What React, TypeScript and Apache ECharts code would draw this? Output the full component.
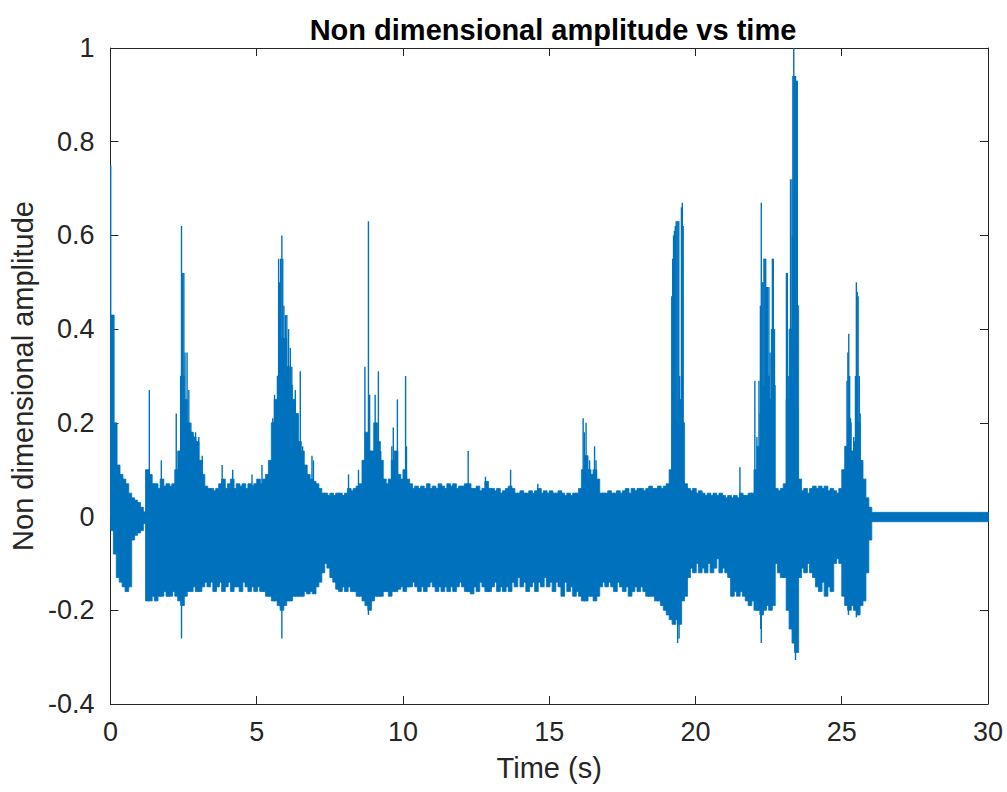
import React, { useEffect, useRef } from "react";
import * as echarts from "echarts";

// ---- axis ticks ----
const xTicks = [0, 5, 10, 15, 20, 25, 30];
const yTicks = [-0.4, -0.2, 0, 0.2, 0.4, 0.6, 0.8, 1];

// ---- signal envelope, one column every 0.1 s from 0 s to 26 s ----
const envStart = 0;
const envStep = 0.1;
const envHi = [
  0.43, 0.2, 0.11, 0.09, 0.08, 0.07, 0.05, 0.04, 0.035, 0.03,
  0.02, 0.01, 0.1, 0.09, 0.07, 0.07, 0.06, 0.08, 0.065, 0.07,
  0.065, 0.07, 0.1, 0.14, 0.3, 0.25, 0.2, 0.18, 0.17, 0.16,
  0.12, 0.09, 0.065, 0.06, 0.06, 0.055, 0.06, 0.07, 0.08, 0.06,
  0.07, 0.08, 0.06, 0.07, 0.065, 0.07, 0.06, 0.07, 0.065, 0.07,
  0.08, 0.07, 0.08, 0.09, 0.12, 0.2, 0.25, 0.3, 0.38, 0.38,
  0.32, 0.28, 0.25, 0.22, 0.16, 0.14, 0.11, 0.09, 0.08, 0.075,
  0.07, 0.06, 0.05, 0.05, 0.045, 0.05, 0.045, 0.05, 0.05, 0.045,
  0.05, 0.06, 0.055, 0.06, 0.065, 0.07, 0.12, 0.18, 0.14, 0.14,
  0.2, 0.16, 0.12, 0.08, 0.07, 0.08, 0.12, 0.14, 0.09, 0.08,
  0.1, 0.08, 0.07, 0.06, 0.065, 0.06, 0.065, 0.06, 0.07, 0.06,
  0.065, 0.06, 0.07, 0.065, 0.06, 0.07, 0.065, 0.07, 0.06, 0.065,
  0.065, 0.07, 0.07, 0.06, 0.06, 0.065, 0.055, 0.06, 0.075, 0.06,
  0.06, 0.055, 0.06, 0.05, 0.055, 0.06, 0.065, 0.06, 0.05, 0.05,
  0.055, 0.05, 0.05, 0.055, 0.05, 0.055, 0.06, 0.05, 0.055, 0.05,
  0.055, 0.05, 0.05, 0.055, 0.05, 0.045, 0.05, 0.045, 0.05, 0.05,
  0.06, 0.1, 0.13, 0.1, 0.09, 0.1, 0.08, 0.05, 0.05, 0.05,
  0.055, 0.05, 0.05, 0.055, 0.05, 0.055, 0.06, 0.05, 0.06, 0.055,
  0.06, 0.06, 0.055, 0.06, 0.065, 0.06, 0.06, 0.065, 0.06, 0.065,
  0.07, 0.1, 0.2, 0.2, 0.25, 0.2, 0.07, 0.06, 0.055, 0.06,
  0.05, 0.055, 0.05, 0.045, 0.05, 0.045, 0.05, 0.045, 0.05, 0.045,
  0.04, 0.045, 0.04, 0.045, 0.04, 0.05, 0.045, 0.045, 0.05, 0.05,
  0.1, 0.15, 0.22, 0.28, 0.3, 0.25, 0.28, 0.06, 0.055, 0.06,
  0.07, 0.25, 0.4, 0.6, 0.45, 0.08, 0.055, 0.06, 0.05, 0.06,
  0.065, 0.06, 0.065, 0.06, 0.065, 0.055, 0.06, 0.055, 0.05, 0.06,
  0.1, 0.15, 0.2, 0.14, 0.16, 0.2, 0.12, 0.08, 0.04, 0.02,
];
const envLo = [
  -0.03, -0.08, -0.13, -0.14, -0.15, -0.16, -0.15, -0.05, -0.04, -0.035,
  -0.03, -0.015, -0.18, -0.18, -0.17, -0.18, -0.17, -0.17, -0.16, -0.17,
  -0.17, -0.16, -0.17, -0.18, -0.19, -0.17, -0.16, -0.16, -0.15, -0.16,
  -0.16, -0.15, -0.14, -0.15, -0.14, -0.16, -0.15, -0.14, -0.16, -0.15,
  -0.14, -0.16, -0.15, -0.15, -0.16, -0.14, -0.15, -0.16, -0.15, -0.16,
  -0.15, -0.16, -0.16, -0.17, -0.17, -0.18, -0.18, -0.19, -0.2, -0.19,
  -0.18, -0.18, -0.17, -0.17, -0.17, -0.17, -0.16, -0.165, -0.16, -0.165,
  -0.15, -0.14, -0.12, -0.1, -0.11, -0.13, -0.14, -0.155, -0.16, -0.15,
  -0.16, -0.15, -0.16, -0.16, -0.17, -0.17, -0.18, -0.19, -0.2, -0.18,
  -0.17, -0.17, -0.17, -0.16, -0.16, -0.17, -0.16, -0.16, -0.155, -0.15,
  -0.16, -0.15, -0.15, -0.14, -0.15, -0.16, -0.15, -0.16, -0.15, -0.14,
  -0.15, -0.16, -0.15, -0.16, -0.15, -0.16, -0.15, -0.16, -0.15, -0.14,
  -0.15, -0.16, -0.16, -0.165, -0.15, -0.16, -0.14, -0.15, -0.16, -0.16,
  -0.15, -0.14, -0.16, -0.15, -0.16, -0.15, -0.16, -0.14, -0.15, -0.13,
  -0.15, -0.14, -0.16, -0.15, -0.14, -0.16, -0.14, -0.15, -0.13, -0.15,
  -0.14, -0.16, -0.14, -0.15, -0.17, -0.14, -0.16, -0.15, -0.17, -0.16,
  -0.17, -0.18, -0.18, -0.17, -0.17, -0.18, -0.17, -0.15, -0.14, -0.15,
  -0.14, -0.15, -0.16, -0.14, -0.15, -0.16, -0.15, -0.17, -0.16, -0.15,
  -0.16, -0.15, -0.16, -0.17, -0.17, -0.17, -0.18, -0.18, -0.19, -0.2,
  -0.21, -0.22, -0.23, -0.22, -0.23, -0.18, -0.17, -0.13, -0.11, -0.12,
  -0.1, -0.12, -0.11, -0.12, -0.1, -0.12, -0.11, -0.09, -0.12, -0.11,
  -0.12, -0.13, -0.17, -0.16, -0.17, -0.16, -0.17, -0.18, -0.19, -0.18,
  -0.2, -0.2, -0.21, -0.2, -0.19, -0.2, -0.19, -0.1, -0.12, -0.13,
  -0.13, -0.2, -0.24, -0.27, -0.29, -0.13, -0.11, -0.12, -0.1, -0.12,
  -0.13, -0.15, -0.16, -0.14, -0.17, -0.15, -0.16, -0.1, -0.09, -0.1,
  -0.17, -0.19, -0.2, -0.19, -0.2, -0.21, -0.19, -0.18, -0.12, -0.05,
];
// quiet tail after the recording ends
const tailStart = 26;
const tailEnd = 30;
const tailHi = 0.009;
const tailLo = -0.011;

// ---- positive spikes (time s, peak) ----
const spikeT = [
  0.01, 0.04, 0.08, 1.33, 1.74, 2.25, 2.4, 2.43, 2.47, 2.51, 2.55, 2.62, 2.68, 2.75, 2.82, 2.91, 3.02, 3.14,
  3.82, 4.18, 4.84, 5.18, 5.55, 5.61, 5.72, 5.75, 5.78, 5.82, 5.86, 5.89, 5.93, 5.98, 6.03, 6.09, 6.15, 6.2,
  6.32, 6.49, 6.57, 6.89, 6.94, 8.14, 8.48, 8.7, 8.82, 8.86, 9.05, 9.16, 9.24, 9.62, 9.67, 9.81, 10.09, 10.12,
  12.23, 12.82, 13.68, 14.61, 16.16, 16.2, 16.26, 16.38, 16.55, 16.6,
  19.19, 19.22, 19.25, 19.28, 19.31, 19.34, 19.37, 19.4, 19.43, 19.46, 19.49, 19.52, 19.55, 19.58,
  21.52, 22.03, 22.1, 22.17, 22.22, 22.25, 22.28, 22.31, 22.34, 22.37, 22.4, 22.43, 22.46, 22.51, 22.55, 22.6,
  22.63, 22.66, 22.7, 23.11, 23.14, 23.19, 23.25, 23.3, 23.33, 23.36, 23.39, 23.42, 23.45, 23.48, 23.5,
  25.18, 25.21, 25.24, 25.27, 25.3, 25.41, 25.47, 25.5, 25.53, 25.56, 25.6, 25.63,
];
const spikeV = [
  0.75, 0.43, 0.27, 0.27, 0.12, 0.22, 0.3, 0.62, 0.52, 0.52, 0.35, 0.35, 0.27, 0.2, 0.18, 0.18, 0.17, 0.13,
  0.11, 0.1, 0.09, 0.11, 0.21, 0.26, 0.3, 0.55, 0.5, 0.55, 0.6, 0.55, 0.45, 0.43, 0.43, 0.4, 0.36, 0.32,
  0.27, 0.31, 0.15, 0.13, 0.12, 0.09, 0.1, 0.32, 0.63, 0.26, 0.26, 0.31, 0.14, 0.15, 0.19, 0.25, 0.3, 0.15,
  0.14, 0.085, 0.1, 0.07, 0.21, 0.18, 0.2, 0.12, 0.15, 0.12,
  0.47, 0.55, 0.6, 0.61, 0.62, 0.63, 0.63, 0.63, 0.63, 0.3, 0.24, 0.66, 0.67, 0.62,
  0.105, 0.29, 0.17, 0.29, 0.45, 0.67, 0.5, 0.5, 0.55, 0.55, 0.55, 0.49, 0.49, 0.49, 0.35, 0.4,
  0.55, 0.55, 0.4, 0.52, 0.52, 0.3, 0.72, 0.72, 0.94, 1.0, 0.94, 0.94, 0.93, 0.93, 0.23,
  0.29, 0.35, 0.39, 0.3, 0.21, 0.17, 0.3, 0.5, 0.48, 0.47, 0.3, 0.22,
];

// ---- negative spikes (time s, trough) ----
const dipT = [2.43, 5.86, 8.82, 19.39, 19.44, 22.23, 22.25, 23.4, 23.42, 25.23, 25.5];
const dipV = [-0.26, -0.26, -0.21, -0.27, -0.26, -0.24, -0.27, -0.29, -0.306, -0.21, -0.215];

const LINE = "#0072BD";
const AXIS = "#262626";
const FONT = "'Liberation Sans', Arial, Helvetica, sans-serif";

export default function App() {
  const ref = useRef<HTMLDivElement>(null);

  useEffect(() => {
    if (!ref.current) return;
    const chart = echarts.init(ref.current, undefined, { renderer: "svg" });

    const band: number[][] = envHi.map((h, i) => [
      envStart + i * envStep,
      envStart + (i + 1) * envStep,
      envLo[i],
      h,
    ]);
    band.push([tailStart, tailEnd, tailLo, tailHi]);

    const spikes = spikeT.map((t, i) => [t, 0, spikeV[i]]);
    const dips = dipT.map((t, i) => [t, 0, dipV[i]]);

    const bandRender = (params: any, api: any) => {
      const a = api.coord([api.value(0), api.value(3)]);
      const b = api.coord([api.value(1), api.value(2)]);
      return {
        type: "rect",
        shape: { x: a[0], y: a[1], width: b[0] - a[0] + 0.8, height: b[1] - a[1] },
        style: { fill: LINE, stroke: LINE, lineWidth: 0.8 },
      };
    };
    const spikeRender = (params: any, api: any) => {
      const a = api.coord([api.value(0), api.value(1)]);
      const b = api.coord([api.value(0), api.value(2)]);
      return {
        type: "line",
        shape: { x1: a[0], y1: a[1], x2: b[0], y2: b[1] },
        style: { stroke: LINE, lineWidth: 1.4 },
      };
    };

    const xMin = xTicks[0];
    const xMax = xTicks[xTicks.length - 1];
    const xInt = xTicks[1] - xTicks[0];
    const yMin = yTicks[0];
    const yMax = yTicks[yTicks.length - 1];
    const yInt = 0.2;

    const fmtY = (v: number) => String(parseFloat(v.toFixed(1)));

    const baseAxisLine = { show: true, onZero: false, lineStyle: { color: AXIS, width: 1 } };
    const baseTick = { show: true, inside: true, length: 8, lineStyle: { color: AXIS, width: 1 } };

    chart.setOption({
      animation: false,
      backgroundColor: "#ffffff",
      title: {
        text: "Non dimensional amplitude vs time",
        left: 548,
        top: 10,
        textAlign: "center",
        textStyle: { fontFamily: FONT, fontSize: 29, fontWeight: "bold", color: "#000000" },
      },
      grid: { left: 108, right: 19, top: 48, bottom: 88, containLabel: false },
      xAxis: [
        {
          type: "value",
          position: "bottom",
          min: xMin,
          max: xMax,
          interval: xInt,
          axisLine: baseAxisLine,
          axisTick: baseTick,
          splitLine: { show: false },
          axisLabel: { fontFamily: FONT, fontSize: 27, color: AXIS, margin: 14 },
          name: "Time (s)",
          nameLocation: "middle",
          nameGap: 49,
          nameTextStyle: { fontFamily: FONT, fontSize: 29, color: AXIS },
        },
        {
          type: "value",
          position: "top",
          min: xMin,
          max: xMax,
          interval: xInt,
          axisLine: baseAxisLine,
          axisTick: baseTick,
          splitLine: { show: false },
          axisLabel: { show: false },
        },
      ],
      yAxis: [
        {
          type: "value",
          position: "left",
          min: yMin,
          max: yMax,
          interval: yInt,
          axisLine: baseAxisLine,
          axisTick: baseTick,
          splitLine: { show: false },
          axisLabel: { fontFamily: FONT, fontSize: 27, color: AXIS, margin: 16, formatter: fmtY },
          name: "Non dimensional amplitude",
          nameLocation: "middle",
          nameGap: 57,
          nameTextStyle: { fontFamily: FONT, fontSize: 29, color: AXIS },
        },
        {
          type: "value",
          position: "right",
          min: yMin,
          max: yMax,
          interval: yInt,
          axisLine: baseAxisLine,
          axisTick: baseTick,
          splitLine: { show: false },
          axisLabel: { show: false },
        },
      ],
      series: [
        {
          type: "custom",
          name: "envelope",
          xAxisIndex: 0,
          yAxisIndex: 0,
          clip: true,
          renderItem: bandRender,
          encode: { x: [0, 1], y: [2, 3] },
          data: band,
        },
        {
          type: "custom",
          name: "spikes",
          xAxisIndex: 0,
          yAxisIndex: 0,
          clip: true,
          renderItem: spikeRender,
          encode: { x: 0, y: [1, 2] },
          data: spikes,
        },
        {
          type: "custom",
          name: "dips",
          xAxisIndex: 0,
          yAxisIndex: 0,
          clip: true,
          renderItem: spikeRender,
          encode: { x: 0, y: [1, 2] },
          data: dips,
        },
      ],
    });

    return () => {
      chart.dispose();
    };
  }, []);

  return (
    <div
      ref={ref}
      style={{ position: "fixed", left: 0, top: 0, width: 1007, height: 792, background: "#fff" }}
    />
  );
}
